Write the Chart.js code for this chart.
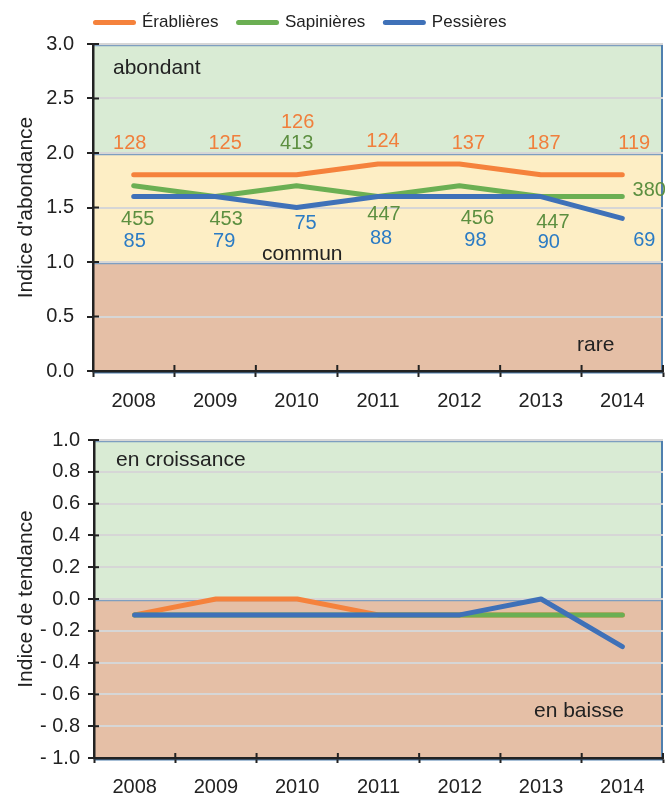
<!DOCTYPE html>
<html><head><meta charset="utf-8">
<script src="https://cdn.jsdelivr.net/npm/chart.js@4/dist/chart.umd.min.js"></script>
<style>
html,body{margin:0;padding:0;background:#fff;}
#wrap{position:relative;width:665px;height:794px;overflow:hidden;background:#fff;}
#c1{position:absolute;left:0;top:0;}
#c2{position:absolute;left:0;top:420px;}
</style></head><body>
<div id="wrap"><canvas id="c1" width="665" height="420"></canvas><canvas id="c2" width="665" height="374"></canvas></div>
<script>
// ---------- data ----------
const years = ['2008','2009','2010','2011','2012','2013','2014'];
const seriesNames = ['Érablières','Sapinières','Pessières'];

const abondErablieres = [1.8, 1.8, 1.8, 1.9, 1.9, 1.8, 1.8];
const abondSapinieres = [1.7, 1.6, 1.7, 1.6, 1.7, 1.6, 1.6];
const abondPessieres  = [1.6, 1.6, 1.5, 1.6, 1.6, 1.6, 1.4];

const countErablieres = [128, 125, 126, 124, 137, 187, 119];
const countSapinieres = [455, 453, 413, 447, 456, 447, 380];
const countPessieres  = [85, 79, 75, 88, 98, 90, 69];

const tendErablieres = [-0.1, 0.0, 0.0, -0.1, -0.1, -0.1, -0.1];
const tendSapinieres = [-0.1, -0.1, -0.1, -0.1, -0.1, -0.1, -0.1];
const tendPessieres  = [-0.1, -0.1, -0.1, -0.1, -0.1, 0.0, -0.3];

const abondTicks = [0, 0.5, 1.0, 1.5, 2.0, 2.5, 3.0];
const tendTicks  = [-1.0, -0.8, -0.6, -0.4, -0.2, 0.0, 0.2, 0.4, 0.6, 0.8, 1.0];

const abondZoneNames = ['rare', 'commun', 'abondant'];
const abondZoneLimits = [0, 1, 2, 3];
const tendZoneNames = ['en baisse', 'en croissance'];
const tendZoneLimits = [-1, 0, 1];

// ---------- styles / layout ----------
const FONT = "'Liberation Sans', Arial, Helvetica, sans-serif";
Chart.defaults.font.family = FONT;
Chart.defaults.color = '#222';
const lineColors = ['#F5823C', '#6BAF53', '#3F71B8'];
const textColors = ['#F07F3C', '#5C8F40', '#2B7BC4'];
const zoneColorsAbond = ['#E5BFA6', '#FDEEC5', '#D9EBD4'];
const zoneColorsTend = ['#E5BFA6', '#D9EBD4'];

// placement of sample-size labels: x shift (px) from the point, y centre in axis units
const countLayout = [
  {dx: [-4, 10, 1, 5, 9, 3, 12], y: [2.09, 2.09, 2.28, 2.11, 2.09, 2.09, 2.09]},
  {dx: [4, 11, 0, 6, 18, 12, 27], y: [1.39, 1.39, 2.09, 1.44, 1.40, 1.36, 1.66]},
  {dx: [1, 9, 9, 3, 16, 8, 22],   y: [1.19, 1.19, 1.35, 1.22, 1.20, 1.18, 1.20]}
];
const abondZoneNamePos = [{dx: 484, y: 0.183}, {dx: 169, y: 1.018}, {dx: 20, y: 2.725}];
const tendZoneNamePos = [{dx: 440, y: -0.745}, {dx: 22, y: 0.838}];

// ---------- plugins ----------
const zonesPlugin = {
  id: 'zones',
  beforeDraw(chart, args, o) {
    if (!o.limits) return;
    const {ctx, chartArea: a, scales: {y}} = chart;
    ctx.save();
    for (let i = 0; i < o.limits.length - 1; i++) {
      const top = y.getPixelForValue(o.limits[i + 1]), bot = y.getPixelForValue(o.limits[i]);
      ctx.fillStyle = o.colors[i];
      ctx.fillRect(a.left, top, a.right - a.left, bot - top);
    }
    ctx.strokeStyle = '#7E9EC0';
    ctx.lineWidth = 1.5;
    for (let i = 1; i < o.limits.length; i++) {
      const py = y.getPixelForValue(o.limits[i]) + 1.6;
      ctx.beginPath(); ctx.moveTo(a.left, py); ctx.lineTo(a.right, py); ctx.stroke();
    }
    ctx.strokeStyle = '#4F7FAE';
    ctx.beginPath(); ctx.moveTo(a.left, a.bottom + 1.8); ctx.lineTo(a.right, a.bottom + 1.8); ctx.stroke();
    ctx.lineWidth = 2;
    ctx.beginPath(); ctx.moveTo(a.right - 1, a.top); ctx.lineTo(a.right - 1, a.bottom + 2); ctx.stroke();
    ctx.restore();
  },
  beforeDatasetsDraw(chart, args, o) {
    if (!o.names) return;
    const {ctx, chartArea: a, scales: {x, y}} = chart;
    ctx.save();
    // inner halves of the tick marks
    ctx.strokeStyle = '#222'; ctx.lineWidth = 2;
    y.ticks.forEach(t => {
      const py = y.getPixelForValue(t.value);
      ctx.beginPath(); ctx.moveTo(a.left, py); ctx.lineTo(a.left + o.tickIn, py); ctx.stroke();
    });
    for (let i = 0; i <= x.ticks.length; i++) {
      const px = x.getPixelForValue(i - 0.5);
      ctx.beginPath(); ctx.moveTo(px, a.bottom); ctx.lineTo(px, a.bottom - o.tickIn); ctx.stroke();
    }
    // zone names
    ctx.font = '21px ' + FONT;
    ctx.fillStyle = '#222';
    ctx.textAlign = 'left'; ctx.textBaseline = 'alphabetic';
    o.names.forEach((n, i) => {
      const p = o.namePos[i];
      ctx.fillText(n, a.left + p.dx, y.getPixelForValue(p.y));
    });
    ctx.restore();
  }
};

const countPlugin = {
  id: 'counts',
  afterDatasetsDraw(chart, args, o) {
    if (!o.series) return;
    const {ctx, scales: {y}} = chart;
    ctx.save();
    ctx.font = '20px ' + FONT;
    ctx.textAlign = 'center'; ctx.textBaseline = 'middle';
    o.series.forEach((s, si) => {
      const meta = chart.getDatasetMeta(si);
      s.values.forEach((v, j) => {
        const pt = meta.data[j];
        ctx.fillStyle = s.color;
        ctx.fillText(String(v), pt.x + s.layout.dx[j], y.getPixelForValue(s.layout.y[j]));
      });
    });
    ctx.restore();
  }
};

const legendTweak = {
  id: 'legendTweak',
  beforeLayout(chart, args, o) {
    const lg = chart.legend;
    if (!lg || lg._tweaked || o.height == null) return;
    const fit = lg.fit;
    lg.fit = function () { fit.call(this); this.height = o.height; };
    lg._tweaked = true;
  },
  afterLayout(chart, args, o) {
    const lg = chart.legend;
    if (!lg || o.dx == null) return;
    lg.left += o.dx; lg.right += o.dx; lg.top += o.dy; lg.bottom += o.dy;
  }
};

function makeDatasets(arrs) {
  const orders = [3, 2, 1];
  return arrs.map((d, i) => ({
    label: seriesNames[i], data: d,
    borderColor: lineColors[i], backgroundColor: lineColors[i],
    borderWidth: 5, borderCapStyle: 'round', borderJoinStyle: 'round',
    pointRadius: 0, pointHoverRadius: 0, tension: 0, fill: false, order: orders[i]
  }));
}

function fmtAbond(v) { return Number(v).toFixed(1); }
function fmtTend(v) { return v < -1e-9 ? '- ' + Math.abs(v).toFixed(1) : Math.abs(v).toFixed(1); }

function yScale(min, max, ticksArr, fmt, title, width, pad) {
  return {
    min, max,
    afterBuildTicks: s => { s.ticks = ticksArr.map(v => ({value: v})); },
    ticks: {callback: v => fmt(v), font: {size: 20}, color: '#222', padding: pad, autoSkip: false},
    grid: {color: '#D6D6D6', lineWidth: 2, drawTicks: true, tickColor: '#222', tickLength: 6, tickWidth: 2},
    border: {color: '#222', width: 2.5},
    title: {display: true, text: title, font: {size: 21}, color: '#222', padding: {top: 14, bottom: 0}},
    afterFit: s => { s.width = width; }
  };
}
function xScale(height, pad, tl) {
  return {
    offset: true,
    grid: {offset: true, drawOnChartArea: false, drawTicks: true, tickColor: '#222', tickLength: tl, tickWidth: 2},
    border: {color: '#222', width: 2.5},
    ticks: {font: {size: 20}, color: '#222', padding: pad, maxRotation: 0, autoSkip: false},
    afterFit: s => { s.height = height; }
  };
}

// ---------- chart 1 : abondance ----------
new Chart(document.getElementById('c1'), {
  type: 'line',
  data: {labels: years, datasets: makeDatasets([abondErablieres, abondSapinieres, abondPessieres])},
  options: {
    responsive: false, animation: false, devicePixelRatio: 1, events: [],
    layout: {padding: {left: 0, right: 2, top: 0, bottom: 0}},
    scales: {
      x: xScale(49, 12, 6),
      y: yScale(0, 3, abondTicks, fmtAbond, "Indice d'abondance", 93, 13)
    },
    plugins: {
      tooltip: {enabled: false},
      legend: {
        display: true, position: 'top', align: 'center',
        labels: {
          usePointStyle: true, pointStyle: 'line', pointStyleWidth: 38,
          font: {size: 17}, color: '#222', padding: 20,
          generateLabels: chart => chart.data.datasets.map((ds, i) => ({
            text: ds.label, fillStyle: ds.borderColor, strokeStyle: ds.borderColor,
            lineWidth: 5, lineCap: 'round', pointStyle: 'line', hidden: false,
            datasetIndex: i, fontColor: '#222'
          }))
        }
      },
      legendTweak: {height: 44, dx: -30.5, dy: -6},
      zones: {limits: abondZoneLimits, colors: zoneColorsAbond, names: abondZoneNames, namePos: abondZoneNamePos, tickIn: 6},
      counts: {series: [
        {values: countErablieres, color: textColors[0], layout: countLayout[0]},
        {values: countSapinieres, color: textColors[1], layout: countLayout[1]},
        {values: countPessieres, color: textColors[2], layout: countLayout[2]}
      ]}
    }
  },
  plugins: [zonesPlugin, countPlugin, legendTweak]
});

// ---------- chart 2 : tendance ----------
new Chart(document.getElementById('c2'), {
  type: 'line',
  data: {labels: years, datasets: makeDatasets([tendErablieres, tendSapinieres, tendPessieres])},
  options: {
    responsive: false, animation: false, devicePixelRatio: 1, events: [],
    layout: {padding: {left: 0, right: 2, top: 17, bottom: 0}},
    scales: {
      x: xScale(36, 12, 5),
      y: yScale(-1, 1, tendTicks, fmtTend, 'Indice de tendance', 94, 8)
    },
    plugins: {
      tooltip: {enabled: false},
      legend: {display: false},
      zones: {limits: tendZoneLimits, colors: zoneColorsTend, names: tendZoneNames, namePos: tendZoneNamePos, tickIn: 5}
    }
  },
  plugins: [zonesPlugin]
});
</script>
</body></html>
